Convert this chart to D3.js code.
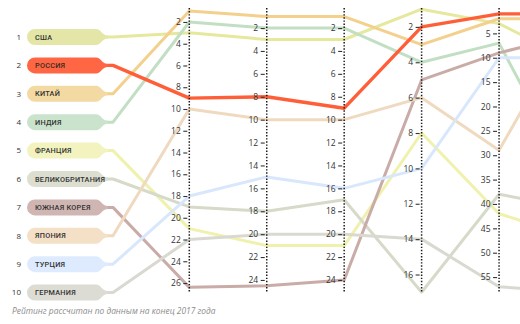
<!DOCTYPE html>
<html><head><meta charset="utf-8">
<script src="https://cdn.jsdelivr.net/npm/d3@7"></script>
<style>
html,body{margin:0;padding:0;background:#fff;}
svg{display:block;}
</style></head>
<body>
<script>
// ---- data ----
const countries = ["США","РОССИЯ","КИТАЙ","ИНДИЯ","ФРАНЦИЯ","ВЕЛИКОБРИТАНИЯ","ЮЖНАЯ КОРЕЯ","ЯПОНИЯ","ТУРЦИЯ","ГЕРМАНИЯ"];
const listRanks = [1,2,3,4,5,6,7,8,9,10];
const axis1 = [3, 9, 1, 2, 21, 19, 26.4, 10, 18, 22];
const axis2 = [3, 8, 1, 2, 21, 18, 24.5, 10, 15, 20];
const axis3 = [3, 9, 1, 2, 21, 17, 24, 10, 16, 20];
const axis4 = [1, 2, 3, 4, 8, 17, 5, 6, 10, 14];
const axis5 = [3, 1, 2, 7, 42, 38, 9, 29, 10, 57];
const axis6 = [11, 1, 2, 37, 47, 41, 5, 1, 10, 58]; // off-screen axis, only lines reach the edge
const ticks1 = [2,4,6,8,10,12,14,16,18,20,22,24,26];
const ticks2 = [2,4,6,8,10,12,14,16,18,20,22,24];
const ticks3 = [2,4,6,8,10,12,14,16,18,20,22,24];
const ticks4 = [2,4,6,8,10,12,14,16];
const ticks5 = [5,10,15,20,25,30,35,40,45,50,55];
const footnote = "Рейтинг рассчитан по данным на конец 2017 года";

// ---- styles ----
const pillColors = ["#e4e6a8","#ff6744","#f3daa2","#cae3cc","#f2f3be","#dcdfd0","#cfb6b2","#f4e0c6","#deebff","#dddcd4"];
const lineColors = ["#e6e89e","#ff5f38","#f3d08c","#c2dfc4","#eff1ad","#d6dac8","#c9aca7","#efdac0","#d8e7fc","#d9d9d1"];

const W = 520, H = 324;
const svg = d3.select("body").append("svg").attr("width", W).attr("height", H);

const axesData = [axis1, axis2, axis3, axis4, axis5, axis6];
const ticksData = [ticks1, ticks2, ticks3, ticks4, ticks5];
const xAxis = d3.scalePoint().domain(d3.range(6)).range([189.3, 576.5]);
const yScales = [
  d3.scaleLinear().domain([1, 27]).range([11.1, 293.9]),
  d3.scaleLinear().domain([1, 25]).range([16.6, 291.4]),
  d3.scaleLinear().domain([1, 25]).range([16.6, 291.4]),
  d3.scaleLinear().domain([1, 17]).range([9.2, 292.2]),
  d3.scaleLinear().domain([0, 58]).range([9, 291.7]),
  d3.scaleLinear().domain([0, 58]).range([9, 291.7])
];
const yList = d3.scaleLinear().domain([1, 10]).range([37, 292.6]);

const pillX0 = 27, pillEnd = 96, tipX = 108, kneeX = 113, pillH = 16;

// ---- lines ----
const line = d3.line().x(d => d[0]).y(d => d[1]);
const order = d3.range(countries.length).filter(i => i !== 1).concat([1]);
const gLines = svg.append("g");
order.forEach(i => {
  const yl = yList(listRanks[i]);
  const pts = [[tipX - 2, yl], [kneeX, yl]].concat(axesData.map((arr, a) => [xAxis(a), yScales[a](arr[i])]));
  gLines.append("path")
    .attr("d", line(pts))
    .attr("fill", "none")
    .attr("stroke", lineColors[i])
    .attr("stroke-width", i === 1 ? 3.4 : 3)
    .attr("stroke-linejoin", "round")
    .attr("stroke-linecap", "round");
});

// ---- axes (visible ones) ----
const gAxes = svg.append("g");
ticksData.forEach((ticks, a) => {
  const x = xAxis(a);
  gAxes.append("line")
    .attr("x1", x).attr("x2", x).attr("y1", 8).attr("y2", 292)
    .attr("stroke", "#1a1a1a").attr("stroke-width", 1.5)
    .attr("stroke-dasharray", "1.4,1.7");
  const g = gAxes.append("g").attr("transform", `translate(${x - 2},0)`)
    .call(d3.axisLeft(yScales[a]).tickValues(ticks).tickSize(4).tickPadding(2.5).tickFormat(d3.format("d")));
  g.select(".domain").remove();
  g.selectAll(".tick line").attr("stroke", "#333").attr("stroke-width", 1.1);
  g.selectAll(".tick text").attr("fill", "#333").style("font-family", "'Open Sans', sans-serif").style("font-size", "8.5px");
});

// ---- pills ----
const gPills = svg.append("g");
countries.forEach((name, i) => {
  const y = yList(listRanks[i]);
  const h = pillH / 2, r = 8;
  const p = `M${pillX0 + r},${y - h} L${pillEnd},${y - h} C${pillEnd + 5},${y - h} ${pillEnd + 6},${y - 1.5} ${tipX},${y - 1.5} L${tipX},${y + 1.5} C${pillEnd + 6},${y + 1.5} ${pillEnd + 5},${y + h} ${pillEnd},${y + h} L${pillX0 + r},${y + h} A${r},${r} 0 0 1 ${pillX0 + r},${y - h} Z`;
  gPills.append("path").attr("d", p).attr("fill", pillColors[i]);
  gPills.append("text")
    .attr("x", 35).attr("y", y).attr("dy", "0.36em")
    .attr("fill", i === 1 ? "#3a2a22" : "#333")
    .style("font-family", "Roboto, sans-serif")
    .style("font-size", "7.3px").style("font-weight", 500)
    .style("letter-spacing", "0.25px")
    .text(name);
  gPills.append("text")
    .attr("x", 21).attr("y", y).attr("dy", "0.36em")
    .attr("text-anchor", "end")
    .attr("fill", "#333")
    .style("font-family", "'Open Sans', sans-serif")
    .style("font-size", "8px")
    .text(listRanks[i]);
});

// ---- footnote ----
svg.append("text")
  .attr("x", 12).attr("y", 314)
  .attr("fill", "#8c8c8c")
  .style("font-family", "'Open Sans', sans-serif")
  .style("font-size", "8.4px").style("font-style", "italic")
  .text(footnote);
</script>
</body></html>
